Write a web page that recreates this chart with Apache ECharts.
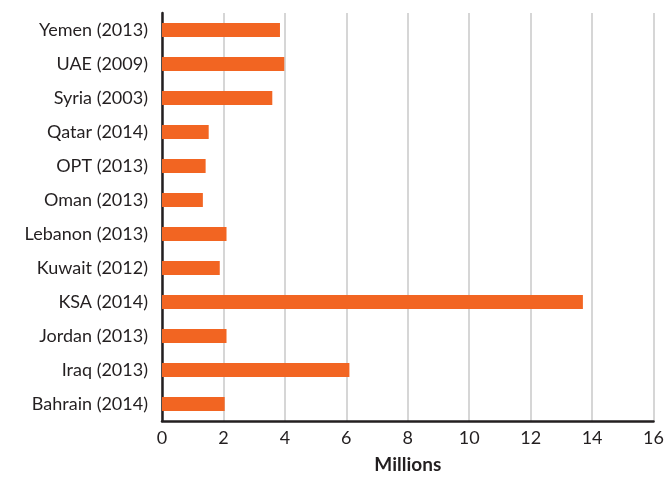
<!DOCTYPE html>
<html>
<head>
<meta charset="utf-8">
<script src="https://cdn.jsdelivr.net/npm/echarts@6/dist/echarts.min.js"></script>
<style>
  html, body { margin: 0; padding: 0; background: #fff; }
  #chart { width: 667px; height: 499px; }
</style>
</head>
<body>
<div id="chart"></div>
<script>
// categories bottom to top
const countries = ['Bahrain (2014)', 'Iraq (2013)', 'Jordan (2013)', 'KSA (2014)', 'Kuwait (2012)', 'Lebanon (2013)',
  'Oman (2013)', 'OPT (2013)', 'Qatar (2014)', 'Syria (2003)', 'UAE (2009)', 'Yemen (2013)'];
const millions = [2.04, 6.1, 2.1, 13.7, 1.88, 2.1, 1.33, 1.42, 1.52, 3.59, 3.98, 3.84];
const xTicks = [0, 2, 4, 6, 8, 10, 12, 14, 16];

document.addEventListener('DOMContentLoaded', function() {
  const chart = echarts.init(document.getElementById('chart'));
  const option = {
    animation: false,
    textStyle: { fontFamily: 'Lato' },
    grid: { left: 162, right: 10, top: 13, bottom: 78, containLabel: false },
    xAxis: {
      type: 'value',
      min: xTicks[0],
      max: xTicks[xTicks.length - 1],
      interval: 2,
      name: 'Millions',
      nameLocation: 'middle',
      nameGap: 34,
      nameTextStyle: { fontSize: 19, fontWeight: 'bold', color: '#231f20' },
      axisLine: { show: true, lineStyle: { color: '#231f20', width: 2.5 } },
      axisTick: { show: false },
      axisLabel: { fontSize: 18, color: '#231f20', margin: 8 },
      splitLine: { show: true, lineStyle: { color: '#c8c8c8', width: 1.5 } }
    },
    yAxis: {
      type: 'category',
      data: countries,
      axisLine: { show: true, lineStyle: { color: '#231f20', width: 2.5 } },
      axisTick: { show: false },
      axisLabel: { fontSize: 18, color: '#231f20', margin: 14 },
      splitLine: { show: false }
    },
    series: [{
      type: 'bar',
      data: millions,
      barWidth: 14,
      itemStyle: { color: '#f26522' }
    }]
  };
  chart.setOption(option);
});
</script>
</body>
</html>
